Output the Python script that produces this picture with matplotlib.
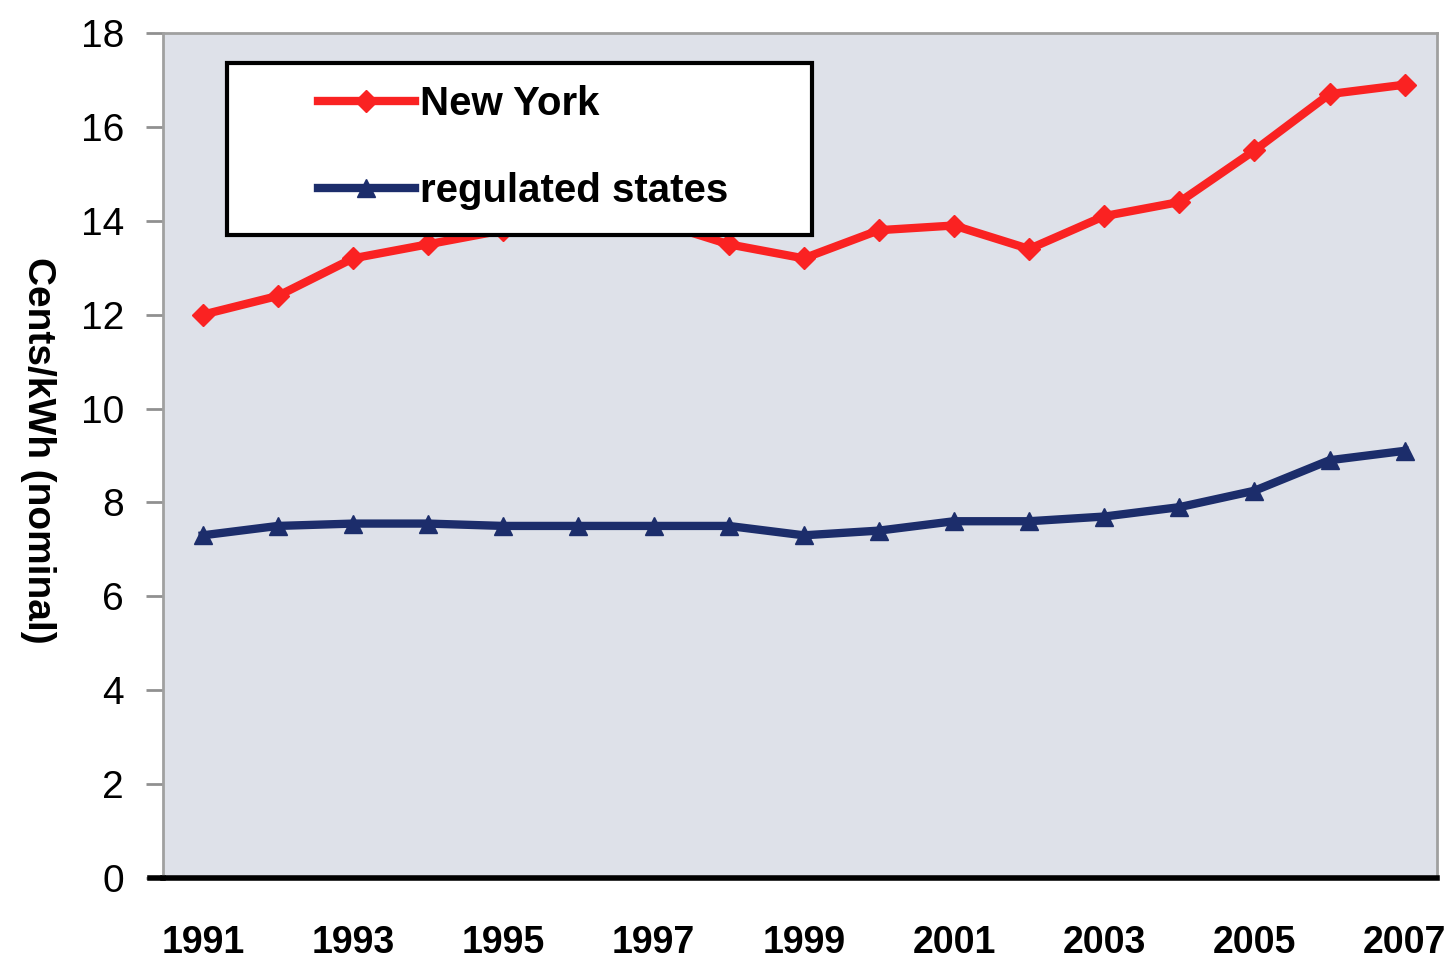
import matplotlib.pyplot as plt
from matplotlib.lines import Line2D
from matplotlib.patches import Rectangle

# data
years = list(range(1991, 2008))
new_york = [12.0, 12.4, 13.2, 13.5, 13.8, 14.0, 14.0, 13.5, 13.2, 13.8,
            13.9, 13.4, 14.1, 14.4, 15.5, 16.7, 16.9]
regulated = [7.3, 7.5, 7.55, 7.55, 7.5, 7.5, 7.5, 7.5, 7.3, 7.4,
             7.6, 7.6, 7.7, 7.9, 8.25, 8.9, 9.1]
xtick_years = list(range(1991, 2008, 2))
yticks = list(range(0, 19, 2))

fnt = ['Liberation Sans', 'DejaVu Sans']

fig = plt.figure(figsize=(14.46, 9.66), dpi=100)
ax = fig.add_axes([0.1127, 0.0911, 0.8811, 0.8747])
ax.set_facecolor('#dee1e9')

ax.plot(years, new_york, color='#fa2222', lw=6, marker='D', ms=11,
        label='New York', zorder=3)
ax.plot(years, regulated, color='#1c2d6b', lw=6, marker='^', ms=13,
        label='regulated states', zorder=3)

ax.set_xlim(1990.47, 2007.43)
ax.set_ylim(0, 18)
ax.set_xticks(xtick_years)
ax.set_yticks(yticks)
ax.set_xticklabels([str(y) for y in xtick_years], family=fnt,
                   fontsize=27, fontweight='bold')
ax.set_yticklabels([str(v) for v in yticks], family=fnt, fontsize=28)
ax.tick_params(axis='x', length=0, pad=34)
ax.tick_params(axis='y', length=12, width=2, color='#909090', pad=16)

for s in ['top', 'left', 'right']:
    ax.spines[s].set_color('#a0a0a0')
    ax.spines[s].set_linewidth(2)
ax.spines['bottom'].set_color('black')
ax.spines['bottom'].set_linewidth(4)
# bottom axis line runs a little past the left edge
ax.add_line(Line2D([-0.01, 0.0], [0, 0], transform=ax.transAxes,
                   color='black', lw=4, clip_on=False))

fig.text(0.026, 0.534, 'Cents/kWh (nominal)', family=fnt, fontsize=28,
         fontweight='bold', rotation=-90, ha='center', va='center')

# legend box (white, thick black border) with the entries inside
ax.add_patch(Rectangle((0.0502, 0.761), 0.4592, 0.2035,
                       transform=ax.transAxes, facecolor='white',
                       edgecolor='black', lw=3, zorder=4))
leg = ax.legend(loc='upper left', bbox_to_anchor=(0.1217, 0.938),
                prop={'family': fnt, 'size': 29, 'weight': 'bold'},
                frameon=False, borderpad=0, labelspacing=1.2,
                handlelength=2.4, handletextpad=0.12, borderaxespad=0)
leg.set_zorder(5)

fig.savefig('out.png', dpi=100)
